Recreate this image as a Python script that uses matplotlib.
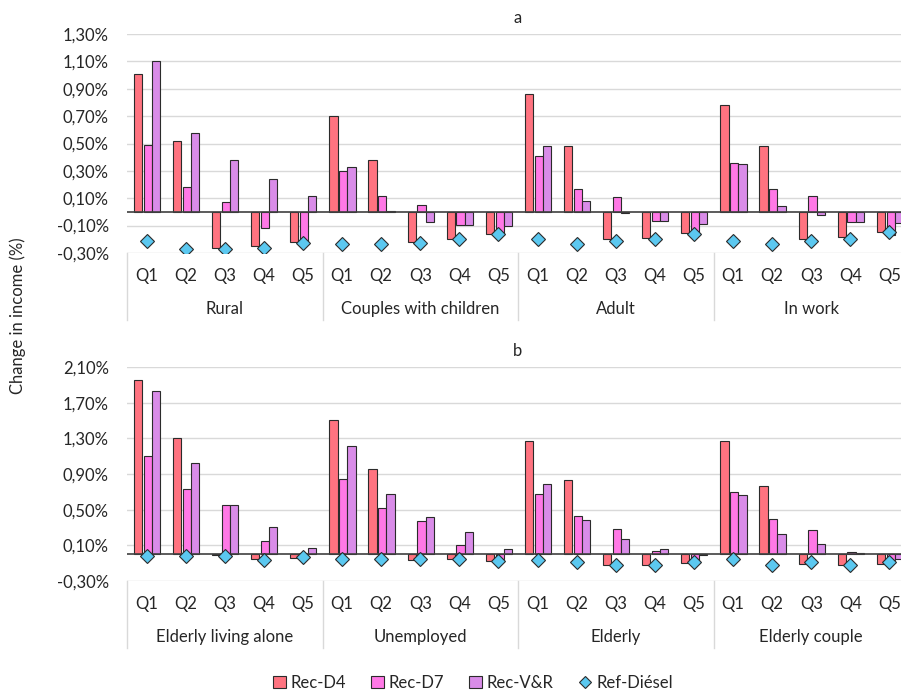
import matplotlib
matplotlib.use("Agg")
import matplotlib.pyplot as plt
from matplotlib.patches import Patch
from matplotlib.lines import Line2D
from matplotlib.ticker import FuncFormatter
import numpy as np

plt.rcParams['font.family'] = ['Lato', 'DejaVu Sans']

quintiles = ["Q1", "Q2", "Q3", "Q4", "Q5"]
series_names = ["Rec-D4", "Rec-D7", "Rec-V&R", "Ref-Diésel"]

# panel a
groups_a = ["Rural", "Couples with children", "Adult", "In work"]
rec_d4_a = [1.01, 0.52, -0.26, -0.25, -0.22,
            0.70, 0.38, -0.22, -0.195, -0.16,
            0.86, 0.48, -0.20, -0.19, -0.155,
            0.78, 0.48, -0.20, -0.185, -0.148]
rec_d7_a = [0.49, 0.18, 0.075, -0.12, -0.22,
            0.30, 0.12, 0.053, -0.093, -0.17,
            0.41, 0.17, 0.11, -0.065, -0.155,
            0.355, 0.17, 0.12, -0.07, -0.165]
rec_vr_a = [1.10, 0.58, 0.38, 0.24, 0.12,
            0.33, 0.01, -0.07, -0.093, -0.105,
            0.48, 0.08, -0.005, -0.065, -0.088,
            0.35, 0.04, -0.025, -0.07, -0.08]
ref_diesel_a = [-0.21, -0.27, -0.27, -0.26, -0.23,
                -0.235, -0.235, -0.23, -0.20, -0.16,
                -0.20, -0.235, -0.21, -0.20, -0.16,
                -0.21, -0.235, -0.21, -0.20, -0.15]

# panel b
groups_b = ["Elderly living alone", "Unemployed", "Elderly", "Elderly couple"]
rec_d4_b = [1.955, 1.30, -0.01, -0.05, -0.04,
            1.51, 0.96, -0.067, -0.05, -0.08,
            1.27, 0.83, -0.12, -0.12, -0.10,
            1.27, 0.77, -0.11, -0.12, -0.11]
rec_d7_b = [1.10, 0.727, 0.55, 0.146, -0.03,
            0.84, 0.52, 0.374, 0.10, -0.05,
            0.68, 0.43, 0.284, 0.034, -0.09,
            0.693, 0.40, 0.277, 0.022, -0.07]
rec_vr_b = [1.835, 1.02, 0.55, 0.307, 0.075,
            1.217, 0.674, 0.416, 0.244, 0.064,
            0.79, 0.385, 0.172, 0.064, -0.008,
            0.67, 0.232, 0.11, 0.01, -0.05]
ref_diesel_b = [-0.02, -0.02, -0.02, -0.06, -0.03,
                -0.05, -0.05, -0.05, -0.05, -0.075,
                -0.07, -0.09, -0.12, -0.12, -0.09,
                -0.05, -0.12, -0.09, -0.12, -0.09]

colors = ["#FF7380", "#FF78E6", "#D98CE8"]
diamond_color = "#5BC8F0"
edge = "#2b2b2b"
text_col = "#262626"
fs = 12

W, H = 901, 693
fig = plt.figure(figsize=(W / 100, H / 100), dpi=100)

def pct(v, pos):
    return ("%.2f%%" % v).replace(".", ",")

def draw_panel(rect_px, groups, d4, d7, vr, diesel, yticks, title):
    left, top, right, bottom = rect_px
    ax = fig.add_axes([left / W, 1 - bottom / H, (right - left) / W, (bottom - top) / H])
    h_px = bottom - top
    n = len(groups) * len(quintiles)
    x = np.arange(n)
    w = 0.21
    for vals, off, c in zip([d4, d7, vr], [-0.22, 0.03, 0.24], colors):
        ax.bar(x + off, vals, width=w, color=c, edgecolor=edge, linewidth=0.8, zorder=3)
    ax.plot(x, diesel, linestyle="none", marker="D", markersize=7.5,
            markerfacecolor=diamond_color, markeredgecolor=edge, markeredgewidth=0.8, zorder=4)
    ax.set_xlim(-0.5, n - 0.5)
    ax.set_ylim(yticks[0], yticks[-1])
    ax.set_yticks(yticks)
    ax.yaxis.set_major_formatter(FuncFormatter(pct))
    ax.tick_params(axis="y", length=0, pad=13, labelsize=fs, labelcolor=text_col)
    ax.set_xticks([])
    ax.grid(axis="y", color="#d9d9d9", linewidth=1, zorder=0)
    ax.axhline(0, color="#404040", linewidth=1.2, zorder=3.5)
    for s in ax.spines.values():
        s.set_visible(False)
    ax.set_title(title, fontsize=fs, color=text_col, pad=8)

    tr = ax.get_xaxis_transform()
    # category labels
    for i in range(n):
        ax.annotate(quintiles[i % 5], xy=(i, 0), xycoords=tr, xytext=(0, -23 * 0.72),
                    textcoords="offset points", ha="center", va="center",
                    fontsize=fs, color=text_col, annotation_clip=False)
    for g, name in enumerate(groups):
        ax.annotate(name, xy=(g * 5 + 2, 0), xycoords=tr, xytext=(0, -56 * 0.72),
                    textcoords="offset points", ha="center", va="center",
                    fontsize=fs, color=text_col, annotation_clip=False)
    for g in range(len(groups) + 1):
        xb = g * 5 - 0.5
        ax.plot([xb, xb], [0, -67 / h_px], transform=tr, color="#d9d9d9",
                linewidth=1, clip_on=False)
    return ax

yt_a = np.round(np.arange(-0.30, 1.31, 0.20), 2)
yt_b = np.round(np.arange(-0.30, 2.11, 0.40), 2)
draw_panel((127, 34, 909, 253), groups_a, rec_d4_a, rec_d7_a, rec_vr_a, ref_diesel_a, yt_a, "a")
draw_panel((127, 367, 909, 581), groups_b, rec_d4_b, rec_d7_b, rec_vr_b, ref_diesel_b, yt_b, "b")

fig.text(18 / W, 1 - 316 / H, "Change in income (%)", rotation=90, ha="center", va="center",
         fontsize=fs, color=text_col)

handles = [Patch(facecolor=c, edgecolor=edge, linewidth=0.8) for c in colors]
handles.append(Line2D([], [], linestyle="none", marker="D", markersize=6.5,
                      markerfacecolor=diamond_color, markeredgecolor=edge, markeredgewidth=0.8))
fig.legend(handles, series_names, loc="center", bbox_to_anchor=(473 / W, 1 - 683 / H),
           ncol=4, frameon=False, fontsize=fs, handlelength=0.75, handleheight=0.75,
           handletextpad=0.3, columnspacing=1.5, labelcolor=text_col)

fig.savefig("out.png", dpi=100)
